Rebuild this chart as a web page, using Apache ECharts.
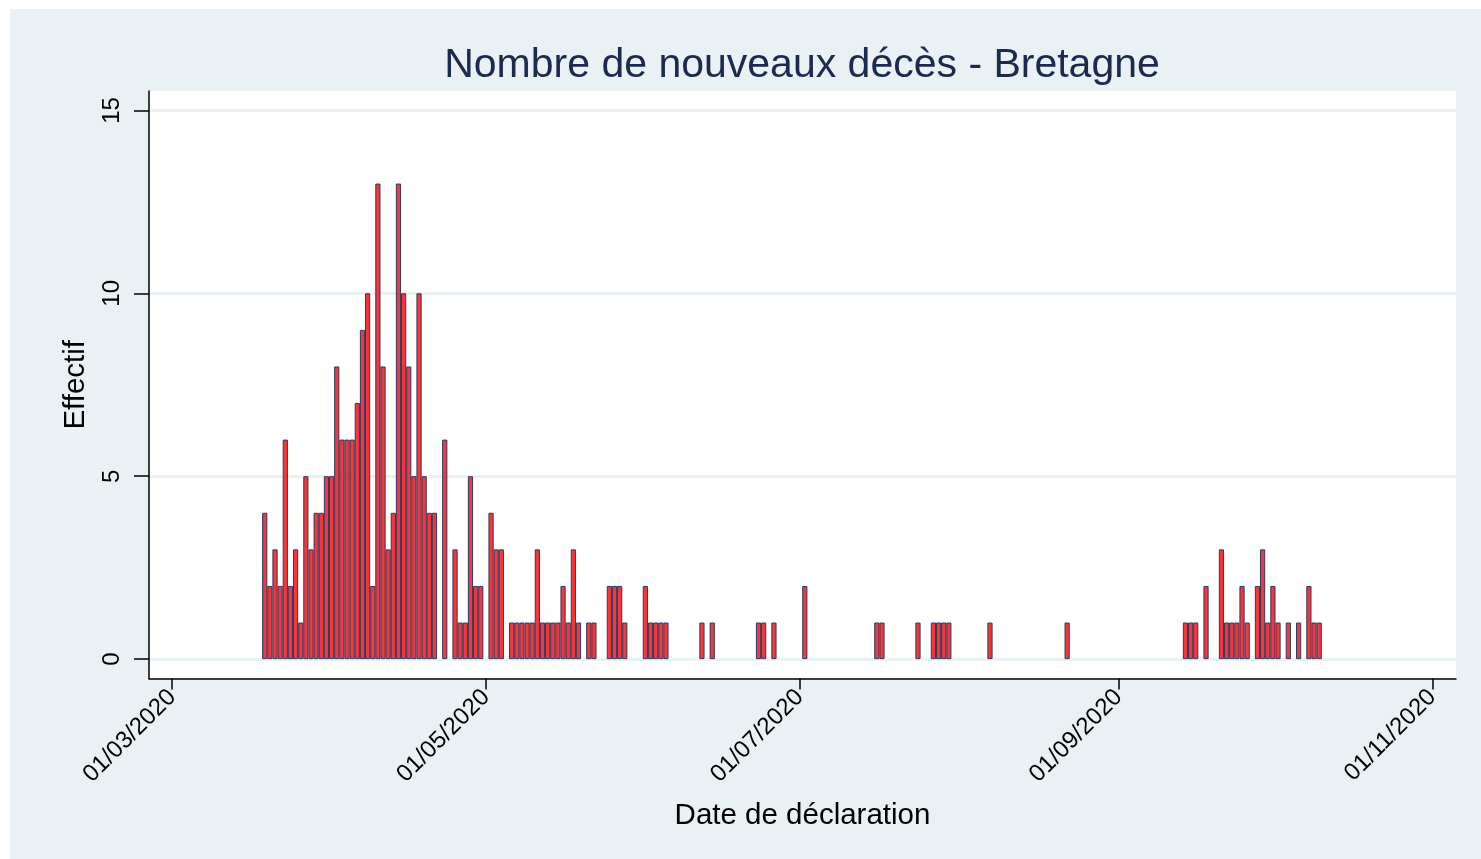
<!DOCTYPE html>
<html>
<head>
<meta charset="utf-8">
<script src="https://cdn.jsdelivr.net/npm/echarts@6/dist/echarts.min.js"></script>
<style>
  html, body { margin: 0; padding: 0; background: #ffffff; }
  #chart {
    position: absolute;
    left: 10px;
    top: 9px;
    width: 1471px;
    height: 850px;
    background-color: #e9f1f4;
  }
</style>
</head>
<body>
<div id="chart"></div>
<script>
// first day of the series (daily counts, one entry per day from here)
const startDate = [2020, 2, 19]; // 19/03/2020
const dailyDeaths = [
  4, 2, 3, 2, 6, 2, 3, 1, 5, 3, 4, 4, 5, 5, 8, 6, 6, 6, 7, 9,
  10, 2, 13, 8, 3, 4, 13, 10, 8, 5, 10, 5, 4, 4, 0, 6, 0, 3, 1, 1,
  5, 2, 2, 0, 4, 3, 3, 0, 1, 1, 1, 1, 1, 3, 1, 1, 1, 1, 2, 1,
  3, 1, 0, 1, 1, 0, 0, 2, 2, 2, 1, 0, 0, 0, 2, 1, 1, 1, 1, 0,
  0, 0, 0, 0, 0, 1, 0, 1, 0, 0, 0, 0, 0, 0, 0, 0, 1, 1, 0, 1,
  0, 0, 0, 0, 0, 2, 0, 0, 0, 0, 0, 0, 0, 0, 0, 0, 0, 0, 0, 1,
  1, 0, 0, 0, 0, 0, 0, 1, 0, 0, 1, 1, 1, 1, 0, 0, 0, 0, 0, 0,
  0, 1, 0, 0, 0, 0, 0, 0, 0, 0, 0, 0, 0, 0, 0, 0, 1, 0, 0, 0,
  0, 0, 0, 0, 0, 0, 0, 0, 0, 0, 0, 0, 0, 0, 0, 0, 0, 0, 0, 1,
  1, 1, 0, 2, 0, 0, 3, 1, 1, 1, 2, 1, 0, 2, 3, 1, 2, 1, 0, 1,
  0, 1, 0, 2, 1, 1
];
// x tick dates (labelled dd/mm/yyyy)
const xTickDates = [[2020, 2, 1], [2020, 4, 1], [2020, 6, 1], [2020, 8, 1], [2020, 10, 1]];
const yTicks = [0, 5, 10, 15];

const DAY = 86400000;
function toTime(d) {
  return new Date(d[0], d[1], d[2]).getTime();
}

var seriesData = [];
dailyDeaths.forEach(function(v, i) {
  if (v > 0) {
    seriesData.push([new Date(startDate[0], startDate[1], startDate[2] + i).getTime(), v]);
  }
});

var xTicks = xTickDates.map(toTime);

function pad(n) {
  return n < 10 ? "0" + n : "" + n;
}

var chartDom = document.getElementById("chart");
var myChart = echarts.init(chartDom);
var fontFamily = "'Liberation Sans', Arial, sans-serif";

var option = {
  animation: false,
  backgroundColor: "#e9f1f4",
  title: {
    text: "Nombre de nouveaux décès - Bretagne",
    left: 787,
    top: 31,
    textAlign: "center",
    textStyle: {
      fontFamily: fontFamily,
      fontSize: 41,
      fontWeight: "normal",
      color: "#1b2a4e",
    },
  },
  grid: {
    left: 139,
    right: 25,
    top: 82,
    bottom: 180.5,
    show: true,
    backgroundColor: "#ffffff",
    borderWidth: 0,
    outerBoundsMode: "none",
  },
  xAxis: {
    type: "value",
    min: xTicks[0] - 4.5 * DAY,
    max: xTicks[xTicks.length - 1] + 4.6 * DAY,
    name: "Date de déclaration",
    nameLocation: "middle",
    nameGap: 122,
    nameTextStyle: {
      fontFamily: fontFamily,
      fontSize: 29.5,
      color: "#000000",
    },
    axisLine: {
      show: true,
      onZero: false,
      lineStyle: { color: "#000000", width: 1.5 },
    },
    axisTick: {
      show: true,
      length: 11,
      customValues: xTicks,
      lineStyle: { color: "#000000", width: 1.5 },
    },
    axisLabel: {
      customValues: xTicks,
      rotate: 45,
      margin: 15,
      fontFamily: fontFamily,
      fontSize: 24,
      color: "#000000",
      formatter: function(value) {
        var d = new Date(value);
        return pad(d.getDate()) + "/" + pad(d.getMonth() + 1) + "/" + d.getFullYear();
      },
    },
    splitLine: { show: false },
    minorTick: { show: false },
  },
  yAxis: {
    type: "value",
    min: -0.53,
    max: 15.53,
    name: "Effectif",
    nameLocation: "middle",
    nameGap: 58,
    nameTextStyle: {
      fontFamily: fontFamily,
      fontSize: 29.5,
      color: "#000000",
    },
    axisLine: {
      show: true,
      onZero: false,
      lineStyle: { color: "#000000", width: 1.5 },
    },
    axisTick: {
      show: true,
      length: 15,
      customValues: yTicks,
      lineStyle: { color: "#000000", width: 1.5 },
    },
    axisLabel: {
      customValues: yTicks,
      rotate: 90,
      margin: 25,
      fontFamily: fontFamily,
      fontSize: 24,
      color: "#000000",
    },
    splitLine: {
      show: true,
      lineStyle: { color: "#e9f1f3", width: 3 },
    },
  },
  series: [
    {
      name: "Décès",
      type: "bar",
      data: seriesData,
      barWidth: 5.2,
      itemStyle: {
        color: "#ff3333",
        borderColor: "#233d6a",
        borderWidth: 1,
      },
    },
  ],
};

myChart.setOption(option);
</script>
</body>
</html>
